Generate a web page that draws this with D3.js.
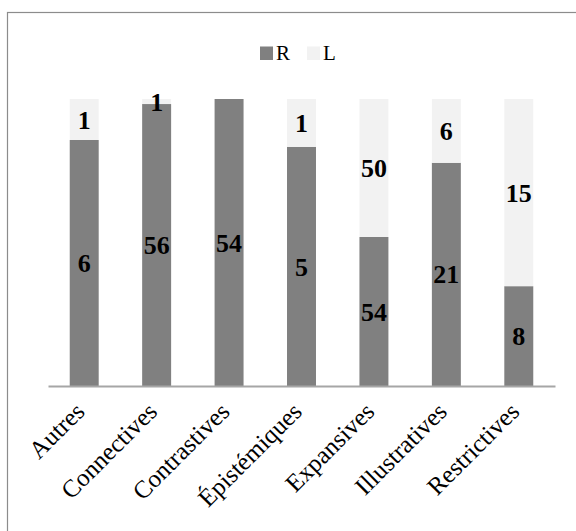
<!DOCTYPE html>
<html>
<head>
<meta charset="utf-8">
<script src="https://cdn.jsdelivr.net/npm/d3@7"></script>
<style>
  html, body { margin: 0; padding: 0; background: #fff; }
  svg { display: block; }
</style>
</head>
<body>
<svg id="chart" width="576" height="531"></svg>
<script>
const categories = ["Autres", "Connectives", "Contrastives", "Épistémiques", "Expansives", "Illustratives", "Restrictives"];
const seriesNames = ["R", "L"];
const valuesR = [6, 56, 54, 5, 54, 21, 8];
const valuesL = [1, 1, 0, 1, 50, 6, 15];
const colors = { R: "#808080", L: "#f2f2f2" };

const svg = d3.select("#chart");
const FONT = "'Liberation Serif', 'Times New Roman', Times, serif";

// outer frame (only left and top visible)
svg.append("rect")
  .attr("x", 7.5).attr("y", 12.5)
  .attr("width", 700).attr("height", 700)
  .attr("fill", "none").attr("stroke", "#8c8c8c").attr("stroke-width", 1.2);

const plotTop = 99, plotBottom = 386;
const x = d3.scaleBand().domain(categories).range([48, 555]).paddingInner(0.6).paddingOuter(0.3);
const y = d3.scaleLinear().domain([0, 1]).range([plotBottom, plotTop]);

const rows = categories.map((c, i) => ({ cat: c, R: valuesR[i], L: valuesL[i] }));
const stack = d3.stack().keys(seriesNames).offset(d3.stackOffsetExpand);
const series = stack(rows);

const g = svg.append("g");
series.forEach(s => {
  g.selectAll(null).data(s).enter().append("rect")
    .attr("x", d => x(d.data.cat))
    .attr("width", x.bandwidth())
    .attr("y", d => y(d[1]))
    .attr("height", d => Math.max(0, y(d[0]) - y(d[1])))
    .attr("fill", colors[s.key]);
});

// axis baseline
const xAxis = d3.axisBottom(x).tickSize(0).tickFormat("");
const axisG = svg.append("g").attr("transform", `translate(0,${plotBottom})`).call(xAxis);
axisG.select(".domain").attr("stroke", "#a6a6a6").attr("stroke-width", 2);

// category labels rotated
svg.append("g").selectAll("text").data(categories).enter().append("text")
  .attr("transform", d => `translate(${x(d) + x.bandwidth() / 2 + 2},${plotBottom + 27}) rotate(-45)`)
  .attr("text-anchor", "end")
  .attr("font-family", FONT)
  .attr("font-size", 25)
  .attr("fill", "#000")
  .text(d => d);

// data labels
series.forEach(s => {
  g.selectAll(null).data(s.filter(d => d.data[s.key] > 0)).enter().append("text")
    .attr("x", d => x(d.data.cat) + x.bandwidth() / 2)
    .attr("y", d => (y(d[0]) + y(d[1])) / 2)
    .attr("dy", "0.35em")
    .attr("text-anchor", "middle")
    .attr("font-family", FONT)
    .attr("font-weight", "bold")
    .attr("font-size", 26)
    .attr("fill", "#000")
    .text(d => d.data[s.key]);
});

// legend
const legend = svg.append("g");
const legendItems = [{ key: "R", x: 260 }, { key: "L", x: 307 }];
legendItems.forEach(it => {
  legend.append("rect").attr("x", it.x).attr("y", 46.5).attr("width", 13).attr("height", 13.5).attr("fill", colors[it.key]);
  legend.append("text").attr("x", it.x + 16).attr("y", 60)
    .attr("font-family", FONT).attr("font-size", 21).attr("fill", "#000").text(it.key);
});
</script>
</body>
</html>
